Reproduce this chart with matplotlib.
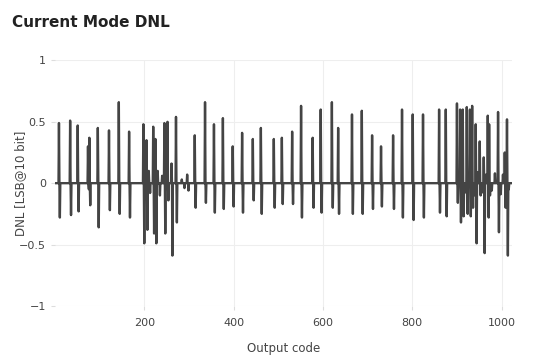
import numpy as np
import matplotlib
matplotlib.use("Agg")
import matplotlib.pyplot as plt

# spike positions (output code) and their heights
spike_code = [9, 34, 51, 74, 77, 96, 121, 143, 166, 198, 205, 220, 225, 245, 252,
              261, 271, 313, 336, 356, 376, 398, 419, 443, 461, 490, 508, 531, 551,
              577, 595, 620, 634, 665, 687, 710, 730, 757, 777, 801, 824, 860, 875,
              900, 907, 913, 922, 929, 934, 942, 951, 960, 969, 972, 992, 1007, 1012]
spike_up = [0.49, 0.51, 0.47, 0.30, 0.37, 0.45, 0.43, 0.66, 0.42, 0.48, 0.35, 0.46,
            0.36, 0.49, 0.50, 0.16, 0.54, 0.39, 0.66, 0.48, 0.53, 0.30, 0.41, 0.36,
            0.45, 0.36, 0.37, 0.42, 0.63, 0.37, 0.60, 0.66, 0.45, 0.56, 0.59, 0.39,
            0.30, 0.39, 0.60, 0.56, 0.56, 0.60, 0.60, 0.65, 0.60, 0.60, 0.62, 0.60,
            0.63, 0.48, 0.34, 0.21, 0.55, 0.48, 0.58, 0.25, 0.52]
spike_down = [-0.28, -0.26, -0.23, -0.05, -0.18, -0.36, -0.22, -0.25, -0.28, -0.49,
              -0.38, -0.41, -0.49, -0.41, -0.14, -0.59, -0.32, -0.20, -0.16, -0.24,
              -0.21, -0.19, -0.24, -0.14, -0.25, -0.20, -0.17, -0.17, -0.28, -0.20,
              -0.24, -0.20, -0.25, -0.25, -0.25, -0.21, -0.19, -0.21, -0.28, -0.30,
              -0.28, -0.24, -0.27, -0.16, -0.32, -0.27, -0.25, -0.27, -0.20, -0.49,
              -0.10, -0.57, -0.28, -0.10, -0.40, -0.20, -0.59]

# small ripples on the baseline
ripple_code = [200, 203, 210, 213, 230, 235, 240, 284, 290, 296, 299,
               904, 917, 926, 938, 946, 955, 965, 978, 985, 998, 1003, 1016]
ripple_val = [0.08, -0.10, 0.10, -0.08, 0.10, -0.10, 0.06, 0.03, -0.04, 0.07, -0.06,
              0.08, -0.08, 0.06, -0.10, 0.09, -0.08, 0.07, -0.06, 0.08, -0.09, 0.07, -0.05]

codes = np.arange(1024)
dnl = np.zeros(1024)
for c, v in zip(ripple_code, ripple_val):
    dnl[c] = v
for c, up, dn in zip(spike_code, spike_up, spike_down):
    dnl[c] = up
    dnl[c + 2] = dn

fig = plt.figure(figsize=(5.44, 3.62), dpi=100)
ax = fig.add_axes([0.101, 0.155, 0.84, 0.678])

ax.plot(codes, dnl, color="#444444", linewidth=1.7)

ax.set_xlim(0, 1023)
ax.set_ylim(-1, 1)
ax.set_xticks([200, 400, 600, 800, 1000])
ax.set_yticks([-1, -0.5, 0, 0.5, 1])
ax.set_yticklabels(["\u22121", "\u22120.5", "0", "0.5", "1"])
ax.grid(True, color="#eeeeee", linewidth=0.8)
ax.set_axisbelow(True)
for s in ax.spines.values():
    s.set_visible(False)
ax.tick_params(colors="#dddddd", labelcolor="#444444", labelsize=8, length=3)
ax.tick_params(axis="x", pad=6)

ax.set_xlabel("Output code", fontsize=8.5, color="#444444", labelpad=10)
ax.set_ylabel("DNL [LSB@10 bit]", fontsize=8.5, color="#444444")
ax.yaxis.set_label_coords(-0.062, 0.5)

fig.text(0.022, 0.958, "Current Mode DNL", fontsize=11, fontweight="bold",
         color="#222222", va="top")

fig.savefig("out.png", dpi=100)
